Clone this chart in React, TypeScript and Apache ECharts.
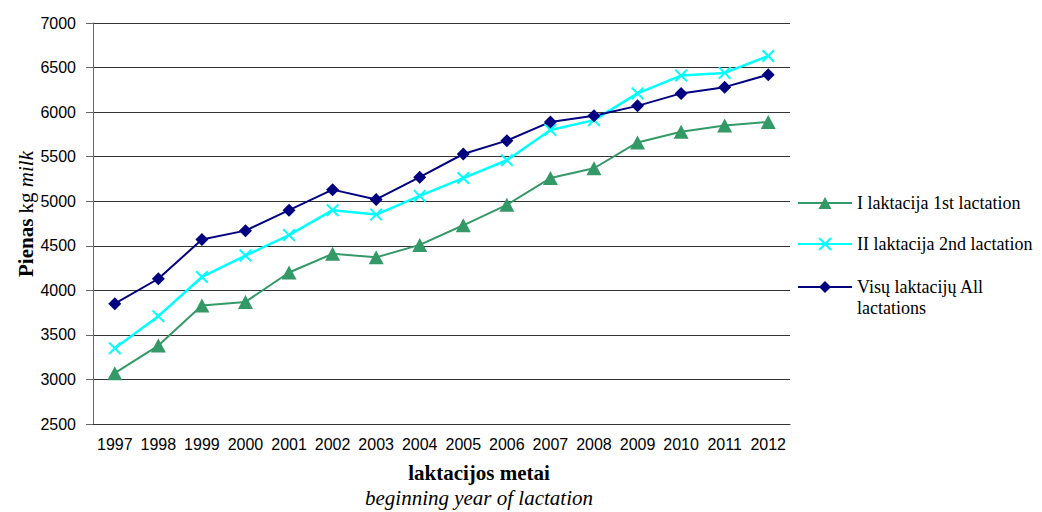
import React, { useEffect, useRef } from "react";
import * as echarts from "echarts";

const years = ["1997","1998","1999","2000","2001","2002","2003","2004","2005","2006","2007","2008","2009","2010","2011","2012"];
const firstLactation = [3070, 3380, 3830, 3870, 4200, 4410, 4370, 4510, 4730, 4960, 5260, 5370, 5660, 5780, 5850, 5890];
const secondLactation = [3350, 3710, 4150, 4390, 4620, 4900, 4850, 5060, 5260, 5460, 5800, 5910, 6210, 6410, 6440, 6630];
const allLactations = [3850, 4130, 4570, 4670, 4900, 5130, 5020, 5270, 5530, 5680, 5890, 5960, 6070, 6210, 6280, 6420];

const seriesNames = ["I laktacija 1st lactation", "II laktacija 2nd lactation", "Visų laktacijų All\nlactations"];
const yTicks = { min: 2500, max: 7000, interval: 500 };

const GREEN = "#339966";
const CYAN = "#00ffff";
const NAVY = "#000080";
const CROSS = "path://M0,1.1L1.1,0L5,3.9L8.9,0L10,1.1L6.1,5L10,8.9L8.9,10L5,6.1L1.1,10L0,8.9L3.9,5Z";
const SERIF = "'Liberation Serif', 'Times New Roman', serif";
const SANS = "'Liberation Sans', Arial, sans-serif";

export default function App() {
  const ref = useRef<HTMLDivElement>(null);
  useEffect(() => {
    if (!ref.current) return;
    const chart = echarts.init(ref.current, null, { renderer: "svg" });
    const legendX0 = 798, legendX1 = 852, legendTextX = 857;
    const legendYs = [203, 244, 287];
    const mid = (legendX0 + legendX1) / 2;
    const legendGraphics: any[] = [];
    const colors = [GREEN, CYAN, NAVY];
    legendYs.forEach((y, i) => {
      legendGraphics.push({
        type: "line",
        shape: { x1: legendX0, y1: y, x2: legendX1, y2: y },
        style: { stroke: colors[i], lineWidth: 2 },
      });
    });
    legendGraphics.push({
      type: "polygon",
      shape: { points: [[mid, legendYs[0] - 6], [mid - 6.5, legendYs[0] + 6], [mid + 6.5, legendYs[0] + 6]] },
      style: { fill: GREEN },
    });
    legendGraphics.push({
      type: "line",
      shape: { x1: mid - 6, y1: legendYs[1] - 6, x2: mid + 6, y2: legendYs[1] + 6 },
      style: { stroke: CYAN, lineWidth: 2 },
    });
    legendGraphics.push({
      type: "line",
      shape: { x1: mid - 6, y1: legendYs[1] + 6, x2: mid + 6, y2: legendYs[1] - 6 },
      style: { stroke: CYAN, lineWidth: 2 },
    });
    legendGraphics.push({
      type: "polygon",
      shape: { points: [[mid, legendYs[2] - 6], [mid + 6, legendYs[2]], [mid, legendYs[2] + 6], [mid - 6, legendYs[2]]] },
      style: { fill: NAVY },
    });
    seriesNames.forEach((name, i) => {
      legendGraphics.push({
        type: "text",
        x: legendTextX,
        y: legendYs[i] - 10.5,
        style: {
          text: name,
          font: `18px ${SERIF}`,
          fill: "#000",
          textAlign: "left",
          textVerticalAlign: "top",
          lineHeight: 21,
        },
      });
    });

    chart.setOption({
      animation: false,
      backgroundColor: "#fff",
      grid: { left: 93, right: 252, top: 23, bottom: 88, containLabel: false },
      xAxis: {
        type: "category",
        data: years,
        boundaryGap: true,
        axisLine: { show: true, lineStyle: { color: "#333", width: 1 } },
        axisTick: { show: false },
        axisLabel: { color: "#000", fontFamily: SANS, fontSize: 16, margin: 12, interval: 0 },
        splitLine: { show: false },
      },
      yAxis: {
        type: "value",
        min: yTicks.min,
        max: yTicks.max,
        interval: yTicks.interval,
        axisLine: { show: true, lineStyle: { color: "#666", width: 1 } },
        axisTick: { show: true, length: 7, lineStyle: { color: "#666" } },
        axisLabel: {
          color: "#000",
          fontFamily: SANS,
          fontSize: 16,
          margin: 17,
          formatter: (v: number) => String(v),
        },
        splitLine: { show: true, lineStyle: { color: "#333", width: 1 } },
      },
      series: [
        {
          name: seriesNames[0],
          type: "line",
          data: firstLactation,
          symbol: "triangle",
          symbolSize: [15, 14],
          lineStyle: { color: GREEN, width: 2 },
          itemStyle: { color: GREEN },
        },
        {
          name: seriesNames[1],
          type: "line",
          data: secondLactation,
          symbol: CROSS,
          symbolSize: 13,
          lineStyle: { color: CYAN, width: 2.5 },
          itemStyle: { color: CYAN },
        },
        {
          name: seriesNames[2],
          type: "line",
          data: allLactations,
          symbol: "diamond",
          symbolSize: [13, 13],
          lineStyle: { color: NAVY, width: 2 },
          itemStyle: { color: NAVY },
        },
      ],
      graphic: [
        {
          type: "text",
          x: 26,
          y: 214,
          rotation: Math.PI / 2,
          style: {
            text: "{b|Pienas\u00a0}{r|kg\u00a0}{i|milk}",
            textAlign: "center",
            textVerticalAlign: "middle",
            fill: "#000",
            rich: {
              b: { fontFamily: SERIF, fontSize: 21, fontWeight: "bold", fill: "#000" },
              r: { fontFamily: SERIF, fontSize: 21, fill: "#000" },
              i: { fontFamily: SERIF, fontSize: 21, fontStyle: "italic", fill: "#000" },
            },
          },
        },
        {
          type: "text",
          x: 479,
          y: 473,
          style: {
            text: "laktacijos metai",
            font: `bold 21px ${SERIF}`,
            fill: "#000",
            textAlign: "center",
            textVerticalAlign: "middle",
          },
        },
        {
          type: "text",
          x: 479,
          y: 498,
          style: {
            text: "beginning year of lactation",
            font: `italic 21px ${SERIF}`,
            fill: "#000",
            textAlign: "center",
            textVerticalAlign: "middle",
          },
        },
        ...legendGraphics,
      ],
    });
    return () => chart.dispose();
  }, []);
  return (
    <div
      ref={ref}
      style={{ position: "fixed", left: 0, top: 0, width: 1042, height: 512, background: "#fff" }}
    />
  );
}
